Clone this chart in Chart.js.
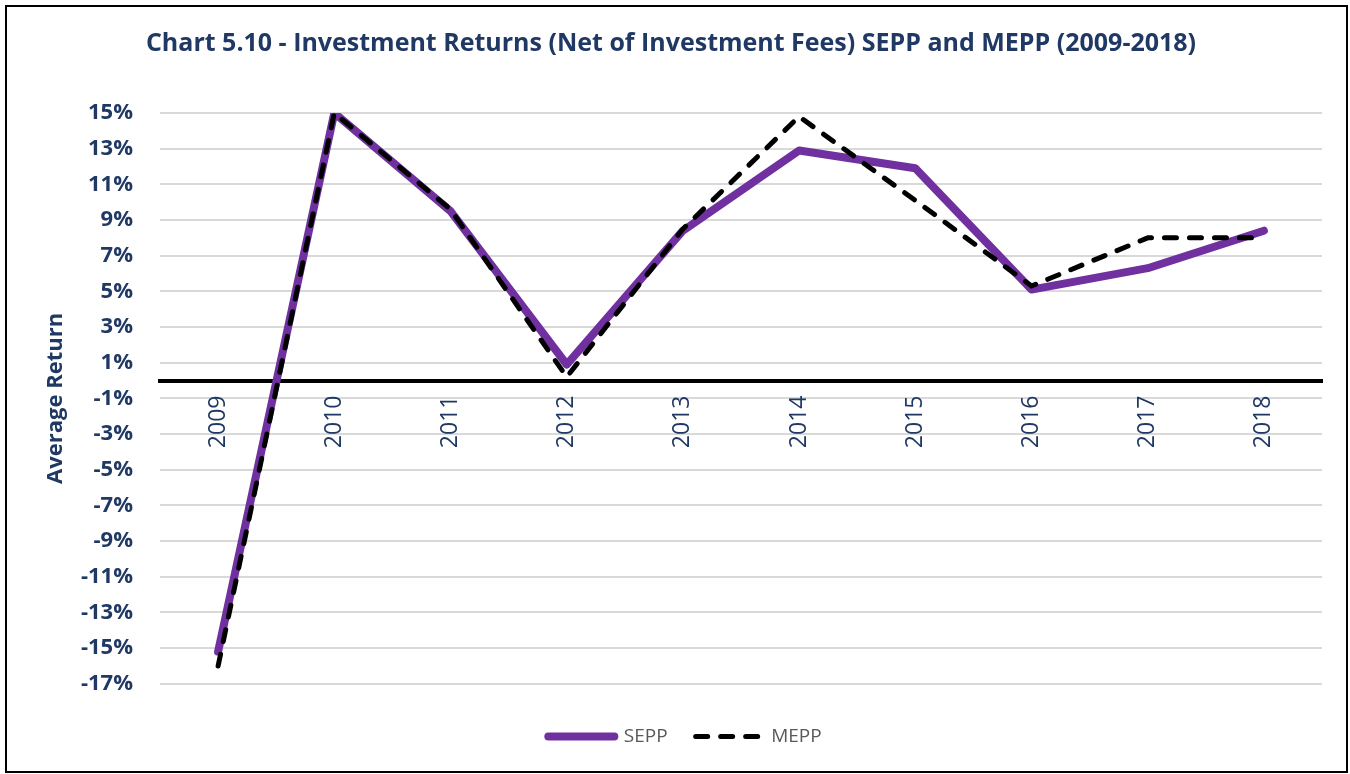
<!DOCTYPE html>
<html>
<head>
<meta charset="utf-8">
<title>Chart 5.10 - Investment Returns</title>
<script src="https://cdn.jsdelivr.net/npm/chart.js@4.4.0/dist/chart.umd.min.js"></script>
<style>
    html, body { margin: 0; padding: 0; background: #ffffff; }
    #wrap { width: 1350px; height: 774px; }
</style>
</head>
<body>
<div id="wrap"><canvas id="returnsChart" width="1350" height="774"></canvas></div>
<script>
// Chart data
const years = ['2009', '2010', '2011', '2012', '2013', '2014', '2015', '2016', '2017', '2018'];
const seppReturns = [-15.2, 15.0, 9.5, 0.9, 8.4, 12.9, 11.9, 5.1, 6.3, 8.4];
const meppReturns = [-16.0, 15.0, 9.6, 0.2, 8.5, 14.8, 10.1, 5.3, 8.0, 8.0];
const yMin = -17;
const yMax = 15;
const yStep = 2;

const navy = '#1F3864';

// white background + outer frame like the original
const framePlugin = {
    id: 'frame',
    beforeDraw(chart) {
        const c = chart.ctx;
        c.save();
        c.fillStyle = '#ffffff';
        c.fillRect(0, 0, chart.width, chart.height);
        c.restore();
    },
    afterLayout(chart) {
        // legend sits a little right of the canvas centre in the original
        if (chart.legend) {
            chart.legend.left += 14;
            chart.legend.right += 14;
        }
    },
    afterDraw(chart) {
        const c = chart.ctx;
        c.save();
        c.strokeStyle = '#000000';
        c.lineWidth = 2;
        c.strokeRect(6, 6, 1341, 766);
        c.restore();
    }
};

Chart.defaults.font.family = "'Open Sans', 'DejaVu Sans', sans-serif";

// legend samples: keep the dataset's dash and round caps
function legendLabels(chart) {
    const items = Chart.defaults.plugins.legend.labels.generateLabels(chart);
    items.forEach(item => {
        const ds = chart.data.datasets[item.datasetIndex];
        item.lineDash = ds.borderDash || [];
        item.lineCap = 'round';
        item.lineWidth = ds.borderWidth;
        item.strokeStyle = ds.borderColor;
    });
    return items;
}

function createReturnsChart() {
    const ctx = document.getElementById('returnsChart');

    new Chart(ctx, {
        type: 'line',
        data: {
            labels: years,
            datasets: [
                {
                    label: 'SEPP',
                    data: seppReturns,
                    borderColor: '#7030A0',
                    backgroundColor: '#7030A0',
                    borderWidth: 8,
                    borderCapStyle: 'round',
                    borderJoinStyle: 'round',
                    pointRadius: 0,
                    tension: 0,
                    order: 1
                },
                {
                    label: 'MEPP',
                    data: meppReturns,
                    borderColor: '#000000',
                    backgroundColor: '#000000',
                    borderWidth: 5,
                    borderDash: [12, 13],
                    borderCapStyle: 'round',
                    borderJoinStyle: 'round',
                    pointRadius: 0,
                    tension: 0,
                    order: 0
                }
            ]
        },
        options: {
            responsive: false,
            animation: false,
            layout: {
                padding: { left: 20, right: 28, top: 0, bottom: 18 }
            },
            scales: {
                x: {
                    position: { y: 0 },
                    offset: true,
                    grid: { display: false, drawTicks: false },
                    border: { display: true, color: '#000000', width: 4 },
                    ticks: {
                        minRotation: 90,
                        maxRotation: 90,
                        autoSkip: false,
                        color: navy,
                        padding: 15,
                        font: { size: 23 }
                    }
                },
                y: {
                    min: yMin,
                    max: yMax,
                    border: { display: false },
                    grid: { color: '#D9D9D9', lineWidth: 2, drawTicks: false },
                    ticks: {
                        stepSize: yStep,
                        color: navy,
                        padding: 27,
                        font: { size: 22, weight: 'bold' },
                        callback: function(value) { return value + '%'; }
                    },
                    title: {
                        display: true,
                        text: 'Average Return',
                        color: navy,
                        font: { size: 22, weight: 'bold' },
                        padding: { top: 23, bottom: 0 }
                    },
                    afterFit: function(scale) { scale.width = 140; }
                }
            },
            plugins: {
                title: {
                    display: true,
                    text: 'Chart 5.10 - Investment Returns (Net of Investment Fees) SEPP and MEPP (2009-2018)',
                    color: navy,
                    font: { size: 25, weight: 'bold' },
                    padding: { top: 29, bottom: 54 }
                },
                legend: {
                    position: 'bottom',
                    title: {
                        display: true,
                        text: '',
                        font: { size: 1 },
                        padding: { top: 14, bottom: 0 }
                    },
                    labels: {
                        usePointStyle: true,
                        pointStyle: 'line',
                        pointStyleWidth: 66,
                        padding: 28,
                        color: '#595959',
                        font: { size: 19 },
                        generateLabels: legendLabels,
                        sort: (a, b) => a.datasetIndex - b.datasetIndex
                    }
                },
                tooltip: { enabled: false }
            }
        },
        plugins: [framePlugin]
    });
}

createReturnsChart();
</script>
</body>
</html>
